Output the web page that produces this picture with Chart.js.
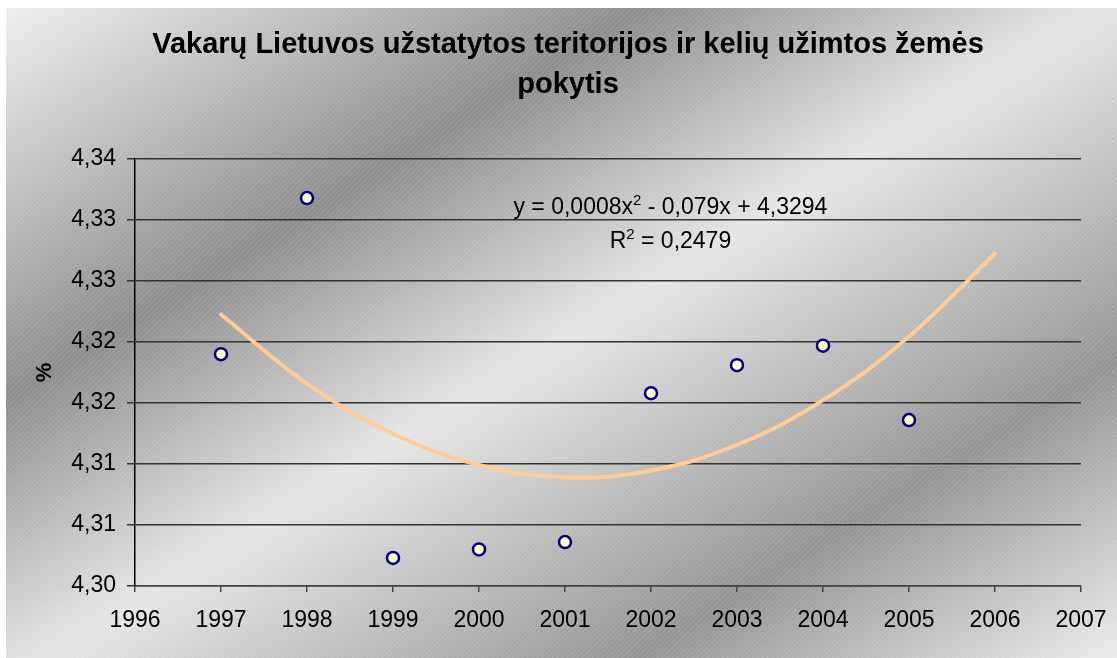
<!DOCTYPE html>
<html>
<head>
<meta charset="utf-8">
<title>Vakarų Lietuvos užstatytos teritorijos ir kelių užimtos žemės pokytis</title>
<script src="https://cdn.jsdelivr.net/npm/chart.js@4/dist/chart.umd.min.js"></script>
<style>
  html, body { margin: 0; padding: 0; background: #fff; }
  #wrap { width: 1117px; height: 658px; position: relative; }
</style>
</head>
<body>
<div id="wrap"><canvas id="chart"></canvas></div>
<script>
// ── Data ──
const years = [1997, 1998, 1999, 2000, 2001, 2002, 2003, 2004, 2005];
const shareValues = [4.3190, 4.3318, 4.3023, 4.3030, 4.3036, 4.3158, 4.3181, 4.3197, 4.3136];
const trendYears = [1997, 1998, 1999, 2000, 2001, 2002, 2003, 2004, 2005, 2006];
const yTickLabels = ['4,30', '4,31', '4,31', '4,32', '4,32', '4,33', '4,33', '4,34'];
const titleLines = ['Vakarų Lietuvos užstatytos teritorijos ir kelių užimtos žemės', 'pokytis'];
const yAxisTitle = '%';
const equationLine1 = ['y = 0,0008x', '2', ' - 0,079x + 4,3294'];
const equationLine2 = ['R', '2', ' = 0,2479'];

const FONT = '"Liberation Sans", Arial, Helvetica, sans-serif';

// ── Polynomial (2nd order) trendline, least squares over the data ──
function quadFit(xs, ys) {
  const x0 = 2001;
  let s = [0, 0, 0, 0, 0], t = [0, 0, 0];
  xs.forEach((x, i) => {
    const u = x - x0;
    for (let k = 0; k < 5; k++) s[k] += Math.pow(u, k);
    for (let k = 0; k < 3; k++) t[k] += ys[i] * Math.pow(u, k);
  });
  // solve [s0 s1 s2; s1 s2 s3; s2 s3 s4] * [a b c] = t
  const m = [[s[0], s[1], s[2], t[0]], [s[1], s[2], s[3], t[1]], [s[2], s[3], s[4], t[2]]];
  for (let i = 0; i < 3; i++) {
    for (let j = i + 1; j < 3; j++) {
      const f = m[j][i] / m[i][i];
      for (let k = i; k < 4; k++) m[j][k] -= f * m[i][k];
    }
  }
  const c = [0, 0, 0];
  for (let i = 2; i >= 0; i--) {
    let v = m[i][3];
    for (let k = i + 1; k < 3; k++) v -= m[i][k] * c[k];
    c[i] = v / m[i][i];
  }
  return x => c[0] + c[1] * (x - x0) + c[2] * (x - x0) * (x - x0);
}
const trendFn = quadFit(years, shareValues);

// ── Background: silver diagonal gradient with fine stripes ──
const bgPlugin = {
  id: 'bg',
  beforeDraw(chart) {
    const { ctx, width, height } = chart;
    ctx.save();
    ctx.fillStyle = '#ffffff';
    ctx.fillRect(0, 0, width, height);
    const g = ctx.createLinearGradient(0, 0, 600, 976);
    g.addColorStop(0.00, '#f2f2f2');
    g.addColorStop(0.30, '#8e8e8e');
    g.addColorStop(0.51, '#e6e6e6');
    g.addColorStop(0.78, '#959595');
    g.addColorStop(1.00, '#ececec');
    ctx.fillStyle = g;
    ctx.fillRect(6, 8, width - 6, height - 8);
    // fine stripes
    const p = document.createElement('canvas');
    p.width = 5; p.height = 5;
    const pc = p.getContext('2d');
    pc.strokeStyle = 'rgba(255,255,255,0.13)';
    pc.lineWidth = 1;
    pc.beginPath(); pc.moveTo(0, 5); pc.lineTo(5, 0); pc.stroke();
    ctx.fillStyle = ctx.createPattern(p, 'repeat');
    ctx.fillRect(6, 8, width - 6, height - 8);
    ctx.restore();
  }
};

// ── Title (drawn by hand so it centres over the whole frame) ──
const titlePlugin = {
  id: 'mainTitle',
  afterDraw(chart) {
    const { ctx } = chart;
    ctx.save();
    ctx.fillStyle = '#000';
    ctx.font = 'bold 29px ' + FONT;
    ctx.textAlign = 'center';
    ctx.textBaseline = 'middle';
    ctx.fillText(titleLines[0], 568, 45);
    ctx.fillText(titleLines[1], 568, 85);
    ctx.restore();
  }
};

// ── Trendline equation ──
function drawRich(ctx, parts, cx, baseline) {
  const big = '23px ' + FONT, small = '15px ' + FONT;
  ctx.font = big; const w0 = ctx.measureText(parts[0]).width;
  ctx.font = small; const w1 = ctx.measureText(parts[1]).width;
  ctx.font = big; const w2 = ctx.measureText(parts[2]).width;
  let x = cx - (w0 + w1 + w2) / 2;
  ctx.textAlign = 'left';
  ctx.textBaseline = 'alphabetic';
  ctx.font = big; ctx.fillText(parts[0], x, baseline); x += w0;
  ctx.font = small; ctx.fillText(parts[1], x, baseline - 9); x += w1;
  ctx.font = big; ctx.fillText(parts[2], x, baseline);
}
const equationPlugin = {
  id: 'equation',
  afterDatasetsDraw(chart) {
    const { ctx, chartArea } = chart;
    const cx = chartArea.left + chartArea.width * 0.566;
    ctx.save();
    ctx.fillStyle = '#000';
    drawRich(ctx, equationLine1, cx, chartArea.top + 55);
    drawRich(ctx, equationLine2, cx, chartArea.top + 89);
    ctx.restore();
  }
};

// ── Chart ──
new Chart(document.getElementById('chart'), {
  type: 'scatter',
  data: {
    datasets: [
      {
        label: 'pokytis',
        data: years.map((y, i) => ({ x: y, y: shareValues[i] })),
        showLine: false,
        pointRadius: 6,
        pointBorderWidth: 2.5,
        pointBackgroundColor: '#ffffcc',
        pointBorderColor: '#000080',
        order: 1
      },
      {
        label: 'trend',
        data: trendYears.map(y => ({ x: y, y: trendFn(y) })),
        showLine: true,
        borderColor: '#ffcc99',
        borderWidth: 4,
        borderCapStyle: 'round',
        tension: 0.4,
        pointRadius: 0,
        order: 2
      }
    ]
  },
  options: {
    responsive: true,
    maintainAspectRatio: false,
    animation: false,
    events: [],
    layout: { padding: { left: 6, top: 159, right: 36, bottom: 0 } },
    plugins: {
      legend: { display: false },
      tooltip: { enabled: false },
      title: { display: false }
    },
    scales: {
      x: {
        type: 'linear',
        min: 1996,
        max: 2007,
        border: { color: '#444', width: 1.5 },
        grid: { drawOnChartArea: false, drawTicks: true, tickLength: 6, tickColor: '#444', lineWidth: 1.5 },
        ticks: {
          stepSize: 1,
          color: '#000',
          padding: 15,
          font: { family: FONT, size: 23 },
          callback: v => String(v)
        },
        afterFit: s => { s.height = 72; s.paddingLeft = 0; s.paddingRight = 0; }
      },
      y: {
        min: 4.30,
        max: 4.335,
        border: { color: '#000', width: 1.5 },
        grid: { color: '#333', lineWidth: 1.5, tickLength: 8, tickColor: '#333' },
        ticks: {
          stepSize: 0.005,
          color: '#000',
          padding: 11,
          font: { family: FONT, size: 23 },
          callback: (v, i) => yTickLabels[i]
        },
        title: {
          display: true,
          text: yAxisTitle,
          color: '#000',
          font: { family: FONT, size: 22, weight: 'bold' },
          padding: { top: 26, bottom: 0 }
        },
        afterFit: s => { s.width = 129; s.paddingTop = 0; s.paddingBottom = 0; }
      }
    }
  },
  plugins: [bgPlugin, equationPlugin, titlePlugin]
});
</script>
</body>
</html>
